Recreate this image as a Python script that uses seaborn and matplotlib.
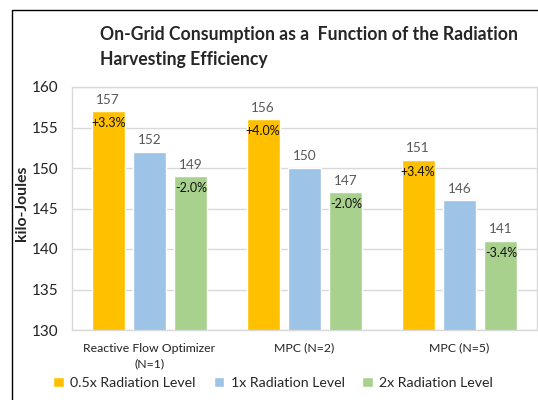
import matplotlib
matplotlib.use("Agg")
import matplotlib.pyplot as plt
import seaborn as sns
import pandas as pd
from matplotlib.patches import Rectangle

# data
categories = ["Reactive Flow Optimizer\n(N=1)", "MPC (N=2)", "MPC (N=5)"]
levels = ["0.5x Radiation Level", "1x Radiation Level", "2x Radiation Level"]
half_x = [157, 156, 151]
one_x = [152, 150, 146]
two_x = [149, 147, 141]
half_pct = ["+3.3%", "+4.0%", "+3.4%"]
two_pct = ["-2.0%", "-2.0%", "-3.4%"]
colors = ["#FFC000", "#9DC3E6", "#A9D18E"]

df = pd.DataFrame({
    "category": categories * 3,
    "level": [levels[0]] * 3 + [levels[1]] * 3 + [levels[2]] * 3,
    "value": half_x + one_x + two_x,
})

sns.set_style("white")
plt.rcParams["font.family"] = ["Lato", "DejaVu Sans"]

fig = plt.figure(figsize=(5.38, 4.0), dpi=100)
ax = fig.add_axes([72 / 538, 70 / 400, 465 / 538, 243 / 400])

sns.barplot(data=df, x="category", y="value", hue="level", palette=colors,
            width=0.8, gap=0.2, ax=ax, legend=True, saturation=1)

ax.set_ylim(130, 160)
ax.set_yticks(range(130, 161, 5))
ax.set_xlim(-0.5, 2.5)
ax.grid(axis="y", color="#D9D9D9", linewidth=1)
ax.set_axisbelow(True)
for s in ax.spines.values():
    s.set_color("#D9D9D9")
    s.set_linewidth(1)
ax.tick_params(axis="y", length=0, labelsize=11, pad=10, labelcolor="#222222")
ax.tick_params(axis="x", length=0, labelsize=8.8, pad=9, labelcolor="#222222")
for t in ax.get_xticklabels():
    t.set_linespacing(1.5)
ax.set_xlabel("")
ax.set_ylabel("kilo-Joules", fontsize=11.3, fontweight="bold")
ax.yaxis.set_label_coords(-0.092, 0.52)

# value labels above bars and percent labels inside
for cont, vals in zip(ax.containers, [half_x, one_x, two_x]):
    ax.bar_label(cont, labels=[str(v) for v in vals], padding=4,
                 fontsize=9.8, color="#595959")
ax.bar_label(ax.containers[0], labels=half_pct, padding=-13, fontsize=9, color="#111111")
ax.bar_label(ax.containers[2], labels=two_pct, padding=-13, fontsize=9, color="#111111")

handles, labels = ax.get_legend_handles_labels()
ax.get_legend().remove()
fig.legend(handles, labels, loc="center", bbox_to_anchor=(0.508, 0.043), ncol=3,
           frameon=False, fontsize=10.2, handlelength=0.75, handleheight=0.75,
           handletextpad=0.45, columnspacing=1.25)

fig.text(100 / 538, 1 - 26 / 400,
         "On-Grid Consumption as a  Function of the Radiation\nHarvesting Efficiency",
         fontsize=12.7, fontweight="bold", va="top", ha="left", linespacing=1.6)

# outer chart frame
fig.patches.append(Rectangle((12 / 538, -0.1), 1.2, 1.1 - 10 / 400, transform=fig.transFigure,
                             fill=False, edgecolor="black", linewidth=1))

fig.savefig("out.png", dpi=100)
